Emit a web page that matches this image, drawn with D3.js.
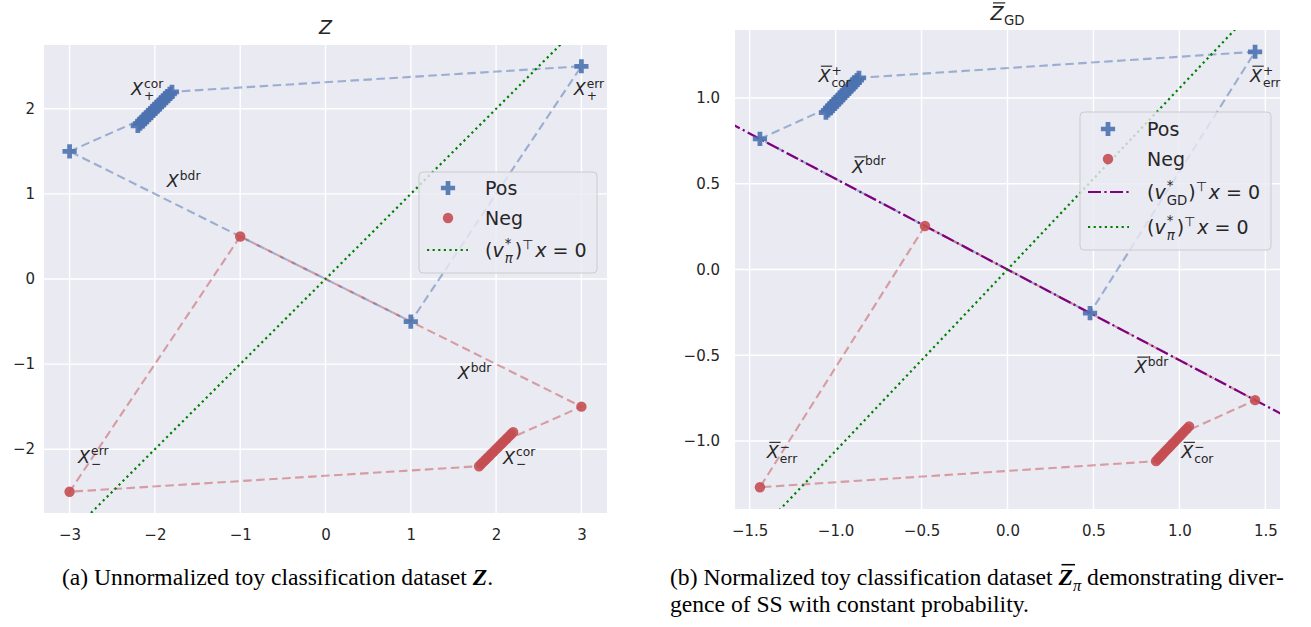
<!DOCTYPE html>
<html><head><meta charset="utf-8">
<script src="https://cdn.jsdelivr.net/npm/d3@7"></script>
<style>body{margin:0;background:#fff}svg{display:block}text{font-family:"DejaVu Sans";fill:#262626}</style>
</head><body><svg id="c" width="1311" height="627"></svg>
<script>
// ---------------- DATA: left panel (Z, unnormalized) ----------------
const zPosBdrX = [-3, 1],   zPosBdrY = [1.5, -0.5];
const zPosErrX = [3],       zPosErrY = [2.5];
const zPosCorX = [-2.2,-2.175,-2.15,-2.125,-2.1,-2.075,-2.05,-2.025,-2.0,-1.975,-1.95,-1.925,-1.9,-1.875,-1.85,-1.825,-1.8];
const zPosCorY = [1.8,1.825,1.85,1.875,1.9,1.925,1.95,1.975,2.0,2.025,2.05,2.075,2.1,2.125,2.15,2.175,2.2];
const zNegBdrX = [-1, 3],   zNegBdrY = [0.5, -1.5];
const zNegErrX = [-3],      zNegErrY = [-2.5];
const zNegCorX = [1.8,1.825,1.85,1.875,1.9,1.925,1.95,1.975,2.0,2.025,2.05,2.075,2.1,2.125,2.15,2.175,2.2];
const zNegCorY = [-2.2,-2.175,-2.15,-2.125,-2.1,-2.075,-2.05,-2.025,-2.0,-1.975,-1.95,-1.925,-1.9,-1.875,-1.85,-1.825,-1.8];
const zPosPathX = [-3, -2.1, -1.8, 3, 1, -3];
const zPosPathY = [1.5, 1.9, 2.2, 2.5, -0.5, 1.5];
const zNegPathX = [-1, -3, 1.8, 2.1, 3, -1];
const zNegPathY = [0.5, -2.5, -2.2, -1.9, -1.5, 0.5];
const zPiDir = [1, 1];              // (v_pi*)^T x = 0  direction
const zTicksX = [-3,-2,-1,0,1,2,3];
const zTicksY = [-2,-1,0,1,2];
const zLabels = [
  {x:-2.28, y:2.16,  sup:"cor", sub:"+"},
  {x:2.91,  y:2.16,  sup:"err", sub:"+"},
  {x:-1.86, y:1.08,  sup:"bdr"},
  {x:1.55,  y:-1.18, sup:"bdr"},
  {x:-2.9,  y:-2.16, sup:"err", sub:"\u2212"},
  {x:2.08,  y:-2.17, sup:"cor", sub:"\u2212"}
];

// ---------------- DATA: right panel (Z-bar GD, normalized) ----------------
const nPosBdrX = [-1.44, 0.48],  nPosBdrY = [0.762, -0.254];
const nPosErrX = [1.44],         nPosErrY = [1.27];
const nPosCorX = [-1.056,-1.044,-1.032,-1.020,-1.008,-0.996,-0.984,-0.972,-0.960,-0.948,-0.936,-0.924,-0.912,-0.900,-0.888,-0.876,-0.864];
const nPosCorY = [0.915,0.928,0.940,0.953,0.966,0.978,0.991,1.004,1.016,1.029,1.042,1.054,1.067,1.080,1.092,1.105,1.118];
const nNegBdrX = [-0.48, 1.44],  nNegBdrY = [0.254, -0.762];
const nNegErrX = [-1.44],        nNegErrY = [-1.27];
const nNegCorX = [0.864,0.876,0.888,0.900,0.912,0.924,0.936,0.948,0.960,0.972,0.984,0.996,1.008,1.020,1.032,1.044,1.056];
const nNegCorY = [-1.118,-1.105,-1.092,-1.080,-1.067,-1.054,-1.042,-1.029,-1.016,-1.004,-0.991,-0.978,-0.966,-0.953,-0.940,-0.928,-0.915];
const nPosPathX = [-1.44, -1.02, -0.864, 1.44, 0.48, -1.44];
const nPosPathY = [0.762, 0.953, 1.118, 1.27, -0.254, 0.762];
const nNegPathX = [-0.48, -1.44, 0.864, 1.02, 1.44, -0.48];
const nNegPathY = [0.254, -1.27, -1.118, -0.953, -0.762, 0.254];
const nGDDir = [1, -0.529];         // (v_GD*)^T x = 0 direction
const nPiDir = [1, 1.058];          // (v_pi*)^T x = 0 direction
const nTicksX = [-1.5,-1.0,-0.5,0.0,0.5,1.0,1.5];
const nTicksY = [-1.0,-0.5,0.0,0.5,1.0];
const nLabels = [
  {x:-1.10, y:1.094,  sup:"+", sub:"cor"},
  {x:1.41,  y:1.094,  sup:"+", sub:"err"},
  {x:-0.905,y:0.565,  sup:"bdr"},
  {x:0.74,  y:-0.603, sup:"bdr"},
  {x:-1.40, y:-1.10,  sup:"\u2212", sub:"err"},
  {x:1.01,  y:-1.10,  sup:"\u2212", sub:"cor"}
];

// ---------------- STYLE ----------------
const BG = "#EAEAF2", BLUE = "#4C72B0", RED = "#C44E52", GREEN = "#008000", PURPLE = "#800080";
const svg = d3.select("#c");

function mathText(parent, x, y, segs, fs, anchor, family){
  const g = parent.append("g");
  const ss = fs*0.7;
  let cx = 0;
  segs.forEach(s => {
    if (s.sup !== undefined || s.sub !== undefined) {
      let w = 0;
      cx += (s.pre || 0);
      if (s.sup !== undefined) {
        const t = g.append("text").attr("x", cx).attr("y", -fs*(s.supDy||0.42)).attr("font-size", ss)
          .attr("font-style", s.supI ? "italic" : "normal").text(s.sup);
        if (family) t.style("font-family", family);
        w = Math.max(w, t.node().getComputedTextLength());
      }
      if (s.sub !== undefined) {
        const t = g.append("text").attr("x", cx).attr("y", fs*(s.subDy||0.27)).attr("font-size", ss)
          .attr("font-style", s.subI ? "italic" : "normal").text(s.sub);
        if (family) t.style("font-family", family);
        if (s.subFill) t.style("fill", s.subFill);
        w = Math.max(w, t.node().getComputedTextLength());
      }
      cx += w + (s.gap || 0);
    } else {
      const t = g.append("text").attr("x", cx).attr("y", 0).attr("font-size", fs)
        .attr("font-style", s.i ? "italic" : "normal").attr("font-weight", s.b ? "bold" : "normal")
        .style("white-space", "pre").text(s.t);
      if (family) t.style("font-family", family);
      if (s.fill) t.style("fill", s.fill);
      const w = t.node().getComputedTextLength();
      if (s.bar) {
        g.append("line").attr("x1", cx + (s.barOff||fs*0.12)).attr("x2", cx + w + (s.barOff||fs*0.12) - fs*0.04)
          .attr("y1", -fs*(s.barY||0.88)).attr("y2", -fs*(s.barY||0.88))
          .attr("stroke", s.fill || "#262626").attr("stroke-width", fs*0.065);
      }
      cx += w + (s.kern || 0);
    }
  });
  const dx = anchor === "middle" ? -cx/2 : anchor === "end" ? -cx : 0;
  g.attr("transform", `translate(${x+dx},${y})`);
  return g;
}

const plusSym = d3.symbol().type(d3.symbolCross).size(112);

function panel(cfg){
  const x = d3.scaleLinear().domain(cfg.xd).range([cfg.x0, cfg.x1]);
  const y = d3.scaleLinear().domain(cfg.yd).range([cfg.y1, cfg.y0]);
  const g = svg.append("g");
  const cid = "clip" + cfg.id;
  svg.append("clipPath").attr("id", cid).append("rect")
    .attr("x", cfg.x0).attr("y", cfg.y0).attr("width", cfg.x1-cfg.x0).attr("height", cfg.y1-cfg.y0);
  g.append("rect").attr("x", cfg.x0).attr("y", cfg.y0).attr("width", cfg.x1-cfg.x0).attr("height", cfg.y1-cfg.y0).attr("fill", BG);
  // grid
  g.selectAll(".gx").data(cfg.tx).join("line").attr("x1", d=>x(d)).attr("x2", d=>x(d))
    .attr("y1", cfg.y0).attr("y2", cfg.y1).attr("stroke", "#fff").attr("stroke-width", 1.4);
  g.selectAll(".gy").data(cfg.ty).join("line").attr("y1", d=>y(d)).attr("y2", d=>y(d))
    .attr("x1", cfg.x0).attr("x2", cfg.x1).attr("stroke", "#fff").attr("stroke-width", 1.4);
  // axes via d3 axis (no domain/tick lines)
  const ax = g.append("g").attr("transform", `translate(0,${cfg.y1})`)
    .call(d3.axisBottom(x).tickValues(cfg.tx).tickFormat(cfg.fmt).tickSize(0).tickPadding(16));
  ax.select(".domain").remove();
  ax.selectAll("text").attr("font-size", 15).attr("font-family", "DejaVu Sans").attr("fill", "#262626").attr("dy", "0.71em").attr("y", 16);
  const ay = g.append("g").attr("transform", `translate(${cfg.x0},0)`)
    .call(d3.axisLeft(y).tickValues(cfg.ty).tickFormat(cfg.fmt).tickSize(0).tickPadding(cfg.ypad));
  ay.select(".domain").remove();
  ay.selectAll("text").attr("font-size", 15).attr("font-family", "DejaVu Sans").attr("fill", "#262626");

  const pg = g.append("g").attr("clip-path", `url(#${cid})`);
  const line = d3.line().x(d=>x(d[0])).y(d=>y(d[1]));
  const zipP = (xs, ys) => xs.map((v,i)=>[v, ys[i]]);
  // dashed polygons
  pg.append("path").attr("d", line(zipP(cfg.posPathX, cfg.posPathY))).attr("fill","none")
    .attr("stroke", BLUE).attr("stroke-opacity", 0.5).attr("stroke-width", 2.1).attr("stroke-dasharray", "8.5,4.5");
  pg.append("path").attr("d", line(zipP(cfg.negPathX, cfg.negPathY))).attr("fill","none")
    .attr("stroke", RED).attr("stroke-opacity", 0.5).attr("stroke-width", 2.1).attr("stroke-dasharray", "8.5,4.5");
  // decision lines
  cfg.bounds.forEach(b => {
    const pts = [[-10*b.dir[0], -10*b.dir[1]], [10*b.dir[0], 10*b.dir[1]]];
    pg.append("path").attr("d", line(pts)).attr("fill","none").attr("stroke", b.color)
      .attr("stroke-width", 2.2).attr("stroke-dasharray", b.dash).attr("stroke-linecap", b.cap || "butt");
  });
  // markers
  const posPts = zipP(cfg.posCorX, cfg.posCorY).concat(zipP(cfg.posBdrX, cfg.posBdrY), zipP(cfg.posErrX, cfg.posErrY));
  const negPts = zipP(cfg.negCorX, cfg.negCorY).concat(zipP(cfg.negBdrX, cfg.negBdrY), zipP(cfg.negErrX, cfg.negErrY));
  pg.selectAll(".pos").data(posPts).join("path").attr("d", plusSym)
    .attr("transform", d=>`translate(${x(d[0])},${y(d[1])})`).attr("fill", BLUE).attr("fill-opacity", 0.9);
  pg.selectAll(".neg").data(negPts).join("circle").attr("cx", d=>x(d[0])).attr("cy", d=>y(d[1])).attr("r", 5.2)
    .attr("fill", RED).attr("fill-opacity", 0.9);
  // annotations
  cfg.labels.forEach(l => {
    const segs = [{t:"X", i:1, bar:cfg.bar, kern:1, barOff:2.5, barY:0.9}];
    segs.push({sup:l.sup, sub:l.sub});
    mathText(g, x(l.x), y(l.y), segs, 17.5, "start");
  });
  return {x, y, g};
}

// ----- left panel -----
panel({id:"L", x0:44, x1:607, y0:45, y1:513, xd:[-3.3,3.3], yd:[-2.75,2.75],
  tx:zTicksX, ty:zTicksY, fmt:d3.format("d"), ypad:9,
  posPathX:zPosPathX, posPathY:zPosPathY, negPathX:zNegPathX, negPathY:zNegPathY,
  posCorX:zPosCorX, posCorY:zPosCorY, posBdrX:zPosBdrX, posBdrY:zPosBdrY, posErrX:zPosErrX, posErrY:zPosErrY,
  negCorX:zNegCorX, negCorY:zNegCorY, negBdrX:zNegBdrX, negBdrY:zNegBdrY, negErrX:zNegErrX, negErrY:zNegErrY,
  bounds:[{dir:zPiDir, color:GREEN, dash:"2.2,3.4"}], labels:zLabels, bar:false});

// ----- right panel -----
panel({id:"R", x0:735, x1:1280, y0:30, y1:509, xd:[-1.585,1.585], yd:[-1.397,1.397],
  tx:nTicksX, ty:nTicksY, fmt:d3.format(".1f"), ypad:15,
  posPathX:nPosPathX, posPathY:nPosPathY, negPathX:nNegPathX, negPathY:nNegPathY,
  posCorX:nPosCorX, posCorY:nPosCorY, posBdrX:nPosBdrX, posBdrY:nPosBdrY, posErrX:nPosErrX, posErrY:nPosErrY,
  negCorX:nNegCorX, negCorY:nNegCorY, negBdrX:nNegBdrX, negBdrY:nNegBdrY, negErrX:nNegErrX, negErrY:nNegErrY,
  bounds:[{dir:nGDDir, color:PURPLE, dash:"13,3.4,2.2,3.4"}, {dir:nPiDir, color:GREEN, dash:"2.2,3.4"}],
  labels:nLabels, bar:true});

// ----- titles -----
mathText(svg, 325.5, 34, [{t:"Z", i:1}], 19, "middle");
mathText(svg, 1007.5, 20, [{t:"Z", i:1, bar:true, barOff:2.5, barY:0.9, kern:0.5}, {sub:"GD", subDy:0.24}], 19, "middle");

// ----- legends -----
const piSegs = [{t:"("},{t:"v", i:1, kern:1},{sup:"*", sub:"\u03C0", subI:1, subDy:0.32, supDy:0.45, gap:2},{t:")"},{sup:"\u22A4", gap:1.5},{t:"x", i:1},{t:" = 0"}];
const gdSegs = [{t:"("},{t:"v", i:1, kern:1},{sup:"*", sub:"GD", subDy:0.32, supDy:0.45, gap:1},{t:")"},{sup:"\u22A4", gap:1.5},{t:"x", i:1},{t:" = 0"}];
function legend(box, rows){
  svg.append("rect").attr("x", box.x).attr("y", box.y).attr("width", box.w).attr("height", box.h)
    .attr("rx", 4).attr("fill", BG).attr("fill-opacity", 0.8).attr("stroke", "#CCCCCC").attr("stroke-width", 1);
  rows.forEach(r => {
    if (r.kind === "plus") svg.append("path").attr("d", plusSym).attr("transform", `translate(${box.mx},${r.y})`).attr("fill", BLUE).attr("fill-opacity", 0.9);
    if (r.kind === "dot") svg.append("circle").attr("cx", box.mx).attr("cy", r.y).attr("r", 5.2).attr("fill", RED).attr("fill-opacity", 0.9);
    if (r.kind === "line") svg.append("line").attr("x1", box.l0).attr("x2", box.l1).attr("y1", r.y).attr("y2", r.y)
      .attr("stroke", r.color).attr("stroke-width", 2.2).attr("stroke-dasharray", r.dash);
    if (r.text) mathText(svg, box.tx, r.y + 7, [{t:r.text}], 19, "start");
    if (r.segs) mathText(svg, box.tx, r.y + 7, r.segs, 19, "start");
  });
}
legend({x:419, y:172, w:178, h:101, mx:448, tx:485, l0:427, l1:468}, [
  {kind:"plus", y:188, text:"Pos"},
  {kind:"dot", y:218, text:"Neg"},
  {kind:"line", y:250, color:GREEN, dash:"2.2,3.4", segs:piSegs}
]);
legend({x:1080, y:112, w:191, h:138, mx:1108, tx:1147, l0:1088, l1:1129}, [
  {kind:"plus", y:129, text:"Pos"},
  {kind:"dot", y:159, text:"Neg"},
  {kind:"line", y:192, color:PURPLE, dash:"13,3.4,2.2,3.4", segs:gdSegs},
  {kind:"line", y:227, color:GREEN, dash:"2.2,3.4", segs:piSegs}
]);

// ----- captions -----
const SERIF = "Liberation Serif";
const capFs = 23.6;
mathText(svg, 62, 585, [{t:"(a) Unnormalized toy classification dataset ", fill:"#000"},{t:"Z", i:1, b:1, fill:"#000"},{t:".", fill:"#000"}], capFs, "start", SERIF);
mathText(svg, 670, 585, [{t:"(b) Normalized toy classification dataset ", fill:"#000"},
  {t:"Z", i:1, b:1, bar:true, barOff:3, barY:0.86, fill:"#000"},{sub:"\u03C0", subI:1, subDy:0.25, subFill:"#000"},
  {t:" demonstrating diver-", fill:"#000"}], capFs, "start", SERIF);
mathText(svg, 670, 612, [{t:"gence of SS with constant probability.", fill:"#000"}], capFs, "start", SERIF);
</script></body></html>
